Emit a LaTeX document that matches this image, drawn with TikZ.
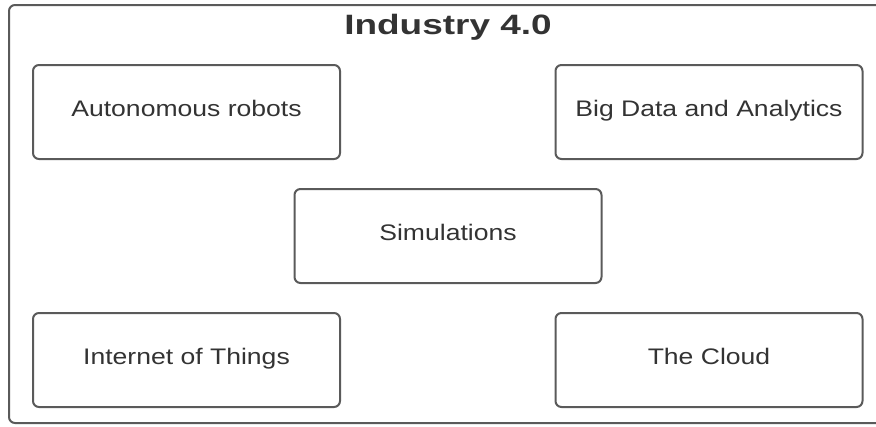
\documentclass[tikz,border=0pt]{standalone}
\usepackage{fontspec}
\setmainfont{Liberation Sans}
\definecolor{edgegray}{HTML}{5A5A5A}
\definecolor{inkgray}{HTML}{333333}
\newcommand{\wide}[2]{\scalebox{#1}[1]{#2}}
\begin{document}
\begin{tikzpicture}[x=1pt,y=-1pt,
  frame/.style={draw=edgegray, line width=2pt, rounded corners=6pt},
  itembox/.style={draw=edgegray, line width=2pt, rounded corners=6pt,
    minimum width=307pt, minimum height=94pt, inner sep=0pt,
    text height=12pt, text depth=4pt,
    text=inkgray, font=\fontsize{22.5}{26}\selectfont},
  heading/.style={text=inkgray, inner sep=0pt, anchor=base, font=\fontsize{28}{32}\selectfont\bfseries}]
  \useasboundingbox (0,0) rectangle (876,426);
  \clip (0,0) rectangle (876,426);
  % outer frame, running off the right edge
  \draw[frame] (9,5) rectangle (890,423);
  \node[heading] (title) at (448,34) {\wide{1.32}{Industry 4.0}};
  \node[itembox] (robots) at (186.5,112) {\wide{1.18}{Autonomous robots}};
  \node[itembox] (bigdata) at (709,112) {\wide{1.18}{Big Data and Analytics}};
  \node[itembox] (sim) at (448,236) {\wide{1.18}{Simulations}};
  \node[itembox] (iot) at (186.5,360) {\wide{1.18}{Internet of Things}};
  \node[itembox] (cloud) at (709,360) {\wide{1.18}{The Cloud}};
\end{tikzpicture}
\end{document}
